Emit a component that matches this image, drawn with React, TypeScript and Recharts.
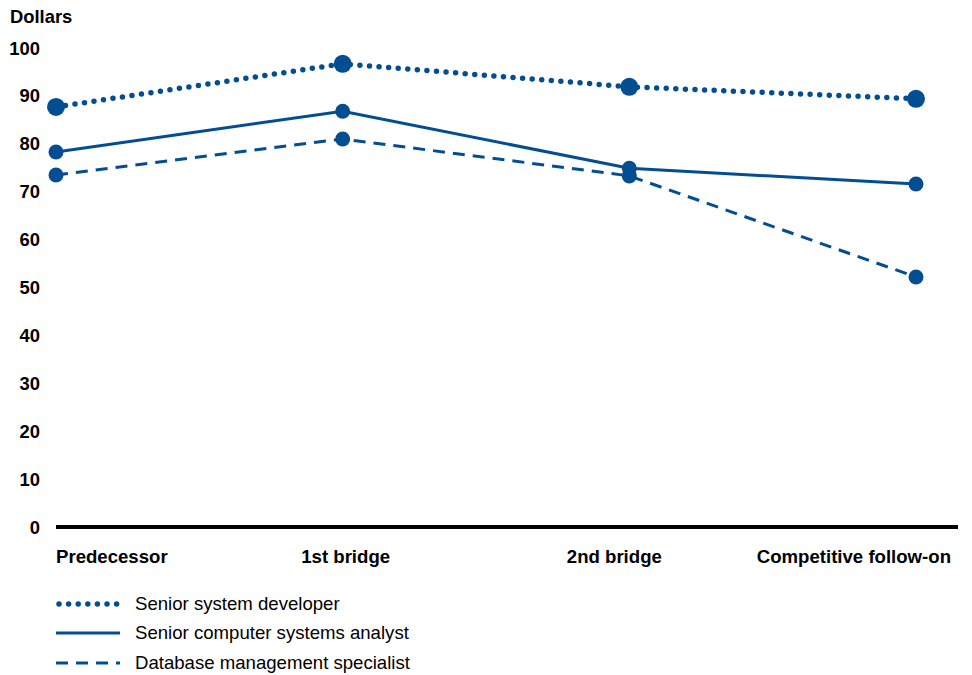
import React from 'react';
import { LineChart, Line, XAxis, YAxis } from 'recharts';

const categories = ['Predecessor', '1st bridge', '2nd bridge', 'Competitive follow-on'];
const seniorDeveloper = [87.7, 96.7, 91.9, 89.4];
const seniorAnalyst = [78.3, 86.8, 74.9, 71.6];
const dbSpecialist = [73.5, 81.0, 73.3, 52.2];
const yTicks = [0, 10, 20, 30, 40, 50, 60, 70, 80, 90, 100];

const BLUE = '#034e92';
const FONT = 'Liberation Sans, Arial, sans-serif';

const series = [
  { key: 'dev', name: 'Senior system developer', values: seniorDeveloper, dash: '0 9.6', width: 5.5, cap: 'round', r: 9 },
  { key: 'analyst', name: 'Senior computer systems analyst', values: seniorAnalyst, dash: undefined, width: 3, cap: 'butt', r: 7.5 },
  { key: 'db', name: 'Database management specialist', values: dbSpecialist, dash: '12 8', width: 3, cap: 'butt', r: 7.5 },
];

const rows = categories.map((c, i) => ({
  category: c,
  dev: seniorDeveloper[i],
  analyst: seniorAnalyst[i],
  db: dbSpecialist[i],
}));

// labels sit a bit off the points in the original
const tickAnchor = ['start', 'middle', 'middle', 'end'];
const tickShift = [0, 3, -15, 35];

function CategoryTick(props: any) {
  const { x, y, payload, index } = props;
  return (
    <text
      x={x + tickShift[index]}
      y={y}
      dy={36}
      textAnchor={tickAnchor[index]}
      fontFamily={FONT}
      fontSize={18.6}
      fontWeight="bold"
      fill="#000"
    >
      {payload.value}
    </text>
  );
}

export default function App() {
  return (
    <div style={{ position: 'absolute', left: 0, top: 0, width: 972, height: 675, background: '#fff', fontFamily: FONT }}>
      <div style={{ position: 'absolute', left: 10, top: 6, fontSize: 18.4, lineHeight: '22px', fontWeight: 'bold' }}>
        Dollars
      </div>
      <LineChart width={972} height={570} data={rows} margin={{ top: 48, right: 14, bottom: 0, left: 10 }}>
        <XAxis
          dataKey="category"
          padding={{ left: 0, right: 42 }}
          axisLine={{ stroke: '#000', strokeWidth: 4 }}
          tickLine={false}
          tickSize={0}
          tickMargin={0}
          height={43}
          interval={0}
          tick={<CategoryTick />}
        />
        <YAxis
          domain={[0, 100]}
          ticks={yTicks}
          axisLine={false}
          tickLine={false}
          tickSize={0}
          tickMargin={16}
          width={46}
          tick={{ fontFamily: FONT, fontSize: 18.4, fontWeight: 'bold', fill: '#000' }}
        />
        {series.map((s) => (
          <Line
            key={s.key}
            dataKey={s.key}
            name={s.name}
            stroke={BLUE}
            strokeWidth={s.width}
            strokeDasharray={s.dash}
            strokeLinecap={s.cap as any}
            dot={{ r: s.r, fill: BLUE, stroke: 'none', strokeDasharray: undefined }}
            activeDot={false}
            isAnimationActive={false}
          />
        ))}
      </LineChart>
      <div style={{ position: 'absolute', left: 56, top: 589 }}>
        {series.map((s) => (
          <div key={s.key} style={{ display: 'flex', alignItems: 'center', height: 29.5 }}>
            <svg width={66} height={10} style={{ marginRight: 13 }}>
              <line
                x1={s.cap === 'round' ? 3 : 0}
                y1={5}
                x2={s.cap === 'round' ? 63 : 64}
                y2={5}
                stroke={BLUE}
                strokeWidth={s.width}
                strokeDasharray={s.dash}
                strokeLinecap={s.cap as any}
              />
            </svg>
            <span style={{ fontSize: 18.6, color: '#000' }}>{s.name}</span>
          </div>
        ))}
      </div>
    </div>
  );
}
